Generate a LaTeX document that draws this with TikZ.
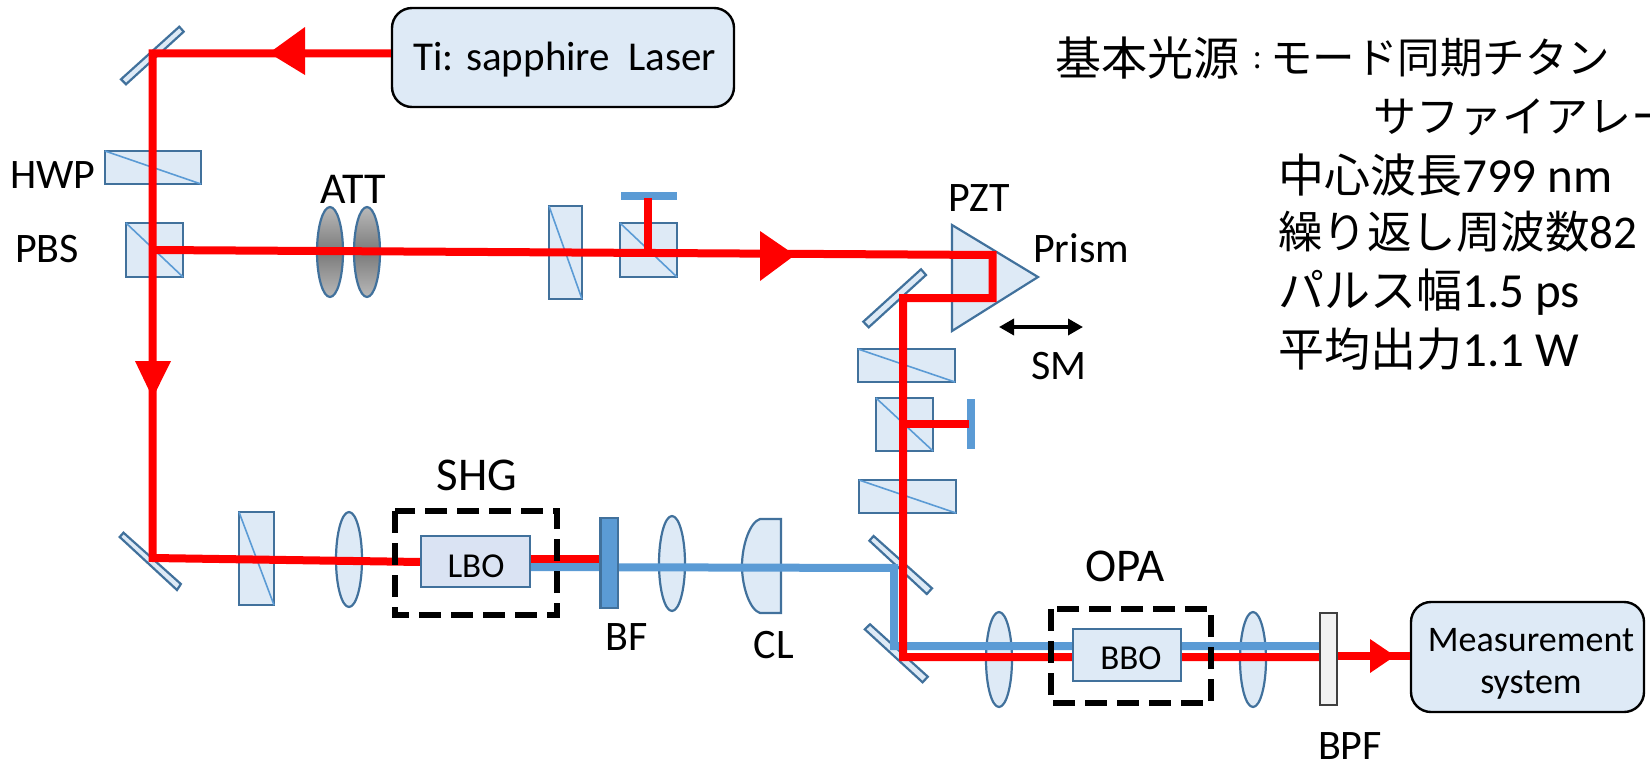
\documentclass[tikz,border=0pt]{standalone}
\usepackage{fontspec}
\setmainfont{Carlito}
\newfontfamily\jpf{Noto Sans CJK JP}
\usetikzlibrary{shadings,arrows.meta}
\definecolor{edgeblue}{HTML}{41719C}
\definecolor{lightblue}{HTML}{DEEAF6}
\definecolor{midblue}{HTML}{5B9BD5}
\definecolor{lboblue}{HTML}{DAE3F3}
\definecolor{beamred}{HTML}{FF0000}
\newcommand{\fsz}[1]{\fontsize{#1}{#1}\selectfont}
\newcommand{\optcube}[4]{%
  \draw[opt] (#1,#2) rectangle (#3,#4);
  \draw[midblue,line width=1.6pt] (#1,#2) -- (#3,#4);}
\newcommand{\optlens}[4]{\draw[opt,#4] (#1,#2) ellipse [x radius=13,y radius=#3];}
\newcommand{\optmirror}[8]{\draw[opt] (#1,#2) -- (#3,#4) -- (#5,#6) -- (#7,#8) -- cycle;}
\tikzset{
  opt/.style={draw=edgeblue,fill=lightblue,line width=2.2pt,line join=miter},
  redbeam/.style={draw=beamred,line width=8pt,line join=miter},
  bluebeam/.style={draw=midblue,line width=8pt,line join=miter},
  bar/.style={fill=midblue},
  dashbox/.style={draw=black,line width=6.5pt,dash pattern=on 22pt off 10pt},
  lab/.style={inner sep=0pt,font=\fsz{42}},
  biglab/.style={inner sep=0pt,font=\fsz{47}},
  jpline/.style={inner sep=0pt,anchor=west},
  device/.style={draw=black,fill=lightblue,line width=2.4pt,rounded corners=20pt,inner sep=0pt,align=center},
  crystal/.style={draw=edgeblue,line width=2.2pt,inner sep=0pt,anchor=center},
  cryslab/.style={inner sep=0pt,font=\fsz{35}},
  att/.style={top color=gray!55,bottom color=gray!55,middle color=black!52}
}
\begin{document}
\begin{tikzpicture}[x=1pt,y=-1pt]
\useasboundingbox (0,0) rectangle (1650,764);
% coordinates of the beam path
\coordinate (m1) at (152.7,53.3);
\coordinate (pbs) at (152.7,250);
\coordinate (m2) at (152.7,558);
\coordinate (p1) at (992.7,255);
\coordinate (p2) at (992.7,298);
\coordinate (m3) at (903,298);
\coordinate (m4) at (903,657);
\coordinate (cube2) at (648,253);
\coordinate (cube2top) at (648,198);
\coordinate (cube3) at (903,424);
\coordinate (cube3side) at (969,424);
\coordinate (bfred) at (601,559);
\coordinate (bl1) at (894,568);
\coordinate (bl2) at (894,646);
\coordinate (bpf) at (1320,646);
\coordinate (bpfr) at (1320,657);
\coordinate (bpfo) at (1337,656);
% devices
\node[device,minimum width=342pt,minimum height=99pt] (laser) at (563,57.5) {};
\node[inner sep=0pt,font=\fsz{41}] (lasertext) at (565,60) {Ti: sapphire\ \ Laser};
\node[device,minimum width=233pt,minimum height=110pt] (meas) at (1527.5,657) {};
\node[inner sep=0pt,font=\fsz{36},align=center] (meastext) at (1531,664) {Measurement\\[6pt]system};
% optics
\optmirror{179.3}{26.7}{183.7}{31.7}{126}{84.3}{121}{79.3}
\optcube{105}{151}{201}{184}
\optcube{126}{223}{183}{277}
\optlens{330}{252}{45}{att}
\optlens{367}{252}{45}{att}
\optcube{549}{206}{582}{299}
\optcube{620}{223}{677}{277}
\fill[bar] (621,192) rectangle (677,200);
\draw[opt] (952,225) -- (1038,277) -- (952,331) -- cycle;
\optmirror{921}{269.3}{926}{275}{868.7}{327.3}{863.3}{321.7}
\optcube{858}{349}{955}{382}
\optcube{876}{398}{933}{451}
\fill[bar] (967,399) rectangle (975,449);
\optcube{859}{480}{956}{513}
\optmirror{123.5}{532.7}{180.9}{584}{177}{590}{119.7}{537}
\optcube{239}{512}{274}{605}
\optlens{349}{559.5}{47.5}{}
\optlens{672}{563.5}{47.5}{}
\draw[opt] (781,519) -- (760,519) .. controls (750,522) and (742,545) .. (742,566) .. controls (742,587) and (750,610) .. (760,613) -- (781,613) -- cycle;
\optmirror{873.6}{536}{932}{588.3}{926.8}{594}{869.4}{540.7}
\optmirror{870}{624.3}{927.8}{676.7}{922.6}{682.3}{864.8}{629.3}
\optlens{999}{659.5}{47.5}{}
\optlens{1253}{659.5}{47.5}{}
% blue beams
\coordinate (lboe) at (530,567);
\coordinate (lbow) at (421,562);
\coordinate (lbor) at (530,559);
\draw[bluebeam] (lboe) -- (bl1) -- (bl2) -- (bpf);
% red beams
\draw[redbeam] (m1 -| laser.west) -- (m1) -- (m2) -- (lbow);
\draw[redbeam] (pbs) -- (p1) -- (p2) -- (m3) -- (m4) -- (bpfr);
\draw[redbeam] (cube2top) -- (cube2);
\draw[redbeam] (cube3) -- (cube3side);
\draw[redbeam] (lbor) -- (bfred);
\draw[redbeam] (bpfo) -- (bpfo -| meas.west);
% arrowheads
\fill[beamred] (269,53) -- (305,27) -- (305,75) -- cycle;
\fill[beamred] (795,255) -- (760,231) -- (760,281) -- cycle;
\fill[beamred] (152.7,398) -- (135,361) -- (171,361) -- cycle;
\fill[beamred] (1395,656) -- (1370,639) -- (1370,673) -- cycle;
% filters
\draw[draw=edgeblue,fill=midblue,line width=2.2pt] (600.5,518) rectangle (618,608);
\draw[draw=black!75,fill=black!5,line width=2.4pt] (1320,613) rectangle (1337,705);
% dashed enclosures
\draw[dashbox] (395,511) rectangle (557,615);
\draw[dashbox] (1051,609) rectangle (1211,703);
% crystals
\node[crystal,fill=lboblue,minimum width=109pt,minimum height=51pt] (lbo) at (475.5,561.5) {};
\node[crystal,fill=lightblue,minimum width=108pt,minimum height=52pt] (bbo) at (1127,655) {};
\node[cryslab] (lbotext) at (476,566) {LBO};
\node[cryslab] (bbotext) at (1131,658) {BBO};
% scan arrow
\coordinate (sml) at (999,327);
\coordinate (smr) at (1083,327);
\draw[black,line width=3.5pt,{Triangle[length=15pt,width=16pt]}-{Triangle[length=15pt,width=16pt]}] (sml) -- (smr);
% labels
\node[lab] (lhwp) at (53,175) {HWP};
\node[lab] (lpbs) at (47,249) {PBS};
\node[lab,font=\fsz{44}] (latt) at (353,189) {ATT};
\node[lab] (lpzt) at (979,198) {PZT};
\node[lab] (lprism) at (1081,248) {Prism};
\node[lab] (lsm) at (1059,366) {SM};
\node[biglab] (lshg) at (477,475) {SHG};
\node[biglab] (lopa) at (1125,566) {OPA};
\node[lab] (lbf) at (627,637) {BF};
\node[lab] (lcl) at (774,645) {CL};
\node[lab] (lbpf) at (1350,746) {BPF};
% specification text
\node[jpline] (t1) at (1055,58) {\fsz{46}\jpf 基本光源};
\node[jpline] (t1c) at (1253,61) {\fsz{30}\jpf :};
\node[jpline] (t1b) at (1270,58) {\fsz{42.5}\jpf モード同期チタン};
\node[jpline] (t2) at (1373,117) {\fsz{43}\jpf サファイアレー};
\node[jpline] (t3) at (1278,175) {{\fsz{46}\jpf 中心波長}\fsz{49}799 nm};
\node[jpline] (t4) at (1278,232) {{\fsz{44.5}\jpf 繰り返し周波数}\fsz{47}82};
\node[jpline] (t5) at (1278,292) {{\fsz{46}\jpf パルス幅}\fsz{49}1.5 ps};
\node[jpline] (t6) at (1278,349) {{\fsz{46}\jpf 平均出力}\fsz{49}1.1 W};
\end{tikzpicture}
\end{document}
